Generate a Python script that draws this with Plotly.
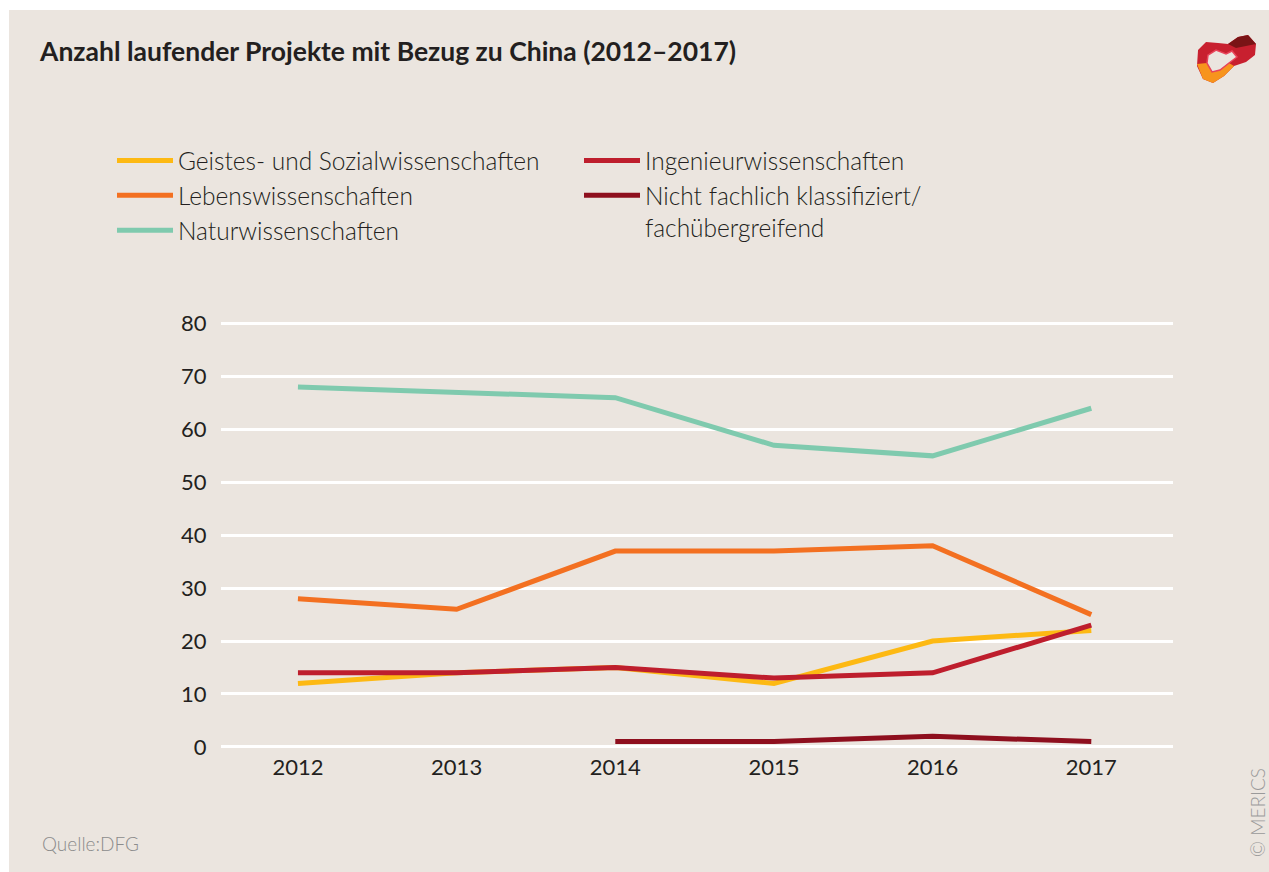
import plotly.graph_objects as go

years = [2012, 2013, 2014, 2015, 2016, 2017]
geistes = [12, 14, 15, 12, 20, 22]
leben = [28, 26, 37, 37, 38, 25]
natur = [68, 67, 66, 57, 55, 64]
ingenieur = [14, 14, 15, 13, 14, 23]
nicht_years = [2014, 2015, 2016, 2017]
nicht = [1, 1, 2, 1]

y_ticks = [0, 10, 20, 30, 40, 50, 60, 70, 80]
x_ticks = years

names = [
    "Geistes- und Sozialwissenschaften",
    "Lebenswissenschaften",
    "Naturwissenschaften",
    "Ingenieurwissenschaften",
    "Nicht fachlich klassifiziert/<br>fachübergreifend",
]
colors = ["#FDB913", "#F37021", "#7FCAAE", "#BE1E2D", "#8E0F1E"]

W, H = 1269, 872
L, R, T, B = 221, 96, 313, 123
PW, PH = W - L - R, H - T - B

def px(x):
    return (x - L) / PW

def py(y):
    return (H - B - y) / PH

def path(pts):
    return "M " + " L ".join(f"{px(a):.4f},{py(b):.4f}" for a, b in pts) + " Z"

TXT = "#231F20"
BG = "#EBE5DF"
FONT = "Lato"

fig = go.Figure()
series = [
    (years, geistes, "legend"),
    (years, leben, "legend"),
    (years, natur, "legend"),
    (years, ingenieur, "legend2"),
    (nicht_years, nicht, "legend2"),
]
for i, (xs, ys, lg) in enumerate(series):
    fig.add_trace(go.Scatter(
        x=xs, y=ys, mode="lines", name=names[i],
        line=dict(color=colors[i], width=5),
        legend=lg,
    ))

legend_common = dict(
    bgcolor="rgba(0,0,0,0)", borderwidth=0,
    font=dict(family=FONT, size=24.5, color=TXT, weight=300),
    itemwidth=56, xanchor="left", yanchor="top", valign="top",
    tracegroupgap=0, orientation="v",
)

# decorative logo (approximation)
logo_outer = [(1198, 50), (1206, 42), (1218, 43), (1228, 44), (1238, 37), (1248, 35),
              (1256, 44), (1255, 55), (1246, 62), (1234, 66), (1224, 76), (1213, 83),
              (1203, 79), (1197, 66)]
logo_orange = [(1197, 64), (1207, 63), (1212, 72), (1220, 70), (1229, 63), (1234, 66),
               (1224, 76), (1213, 83), (1203, 79)]
logo_hole = [(1208, 55), (1216, 50), (1226, 54), (1232, 51), (1237, 57), (1229, 63),
             (1220, 70), (1212, 72), (1207, 63)]
logo_dark = [(1228, 44), (1238, 37), (1248, 35), (1256, 44), (1246, 46), (1236, 48)]

fig.update_layout(
    width=W, height=H,
    margin=dict(l=L, r=R, t=T, b=B, pad=0),
    paper_bgcolor="white",
    plot_bgcolor="rgba(0,0,0,0)",
    showlegend=True,
    title=dict(
        text="<b>Anzahl laufender Projekte mit Bezug zu China (2012–2017)</b>",
        font=dict(family=FONT, size=26.5, color=TXT),
        x=40 / W, xanchor="left", xref="container",
        y=1 - 52 / H, yanchor="middle", yref="container",
    ),
    legend=dict(x=px(112), y=py(138), **legend_common),
    legend2=dict(x=px(579), y=py(138), **legend_common),
    xaxis=dict(
        range=[2011.515, 2017.515],
        tickvals=x_ticks, ticktext=[str(v) for v in x_ticks],
        showgrid=False, zeroline=False, showline=False,
        ticks="", ticklabelstandoff=3,
        tickfont=dict(family=FONT, size=22, color=TXT),
    ),
    yaxis=dict(
        range=[-0.4, 82],
        tickvals=y_ticks, ticktext=[str(v) for v in y_ticks],
        showgrid=True, gridcolor="white", gridwidth=2.5,
        zeroline=False, showline=False,
        ticks="outside", ticklen=9, tickcolor="rgba(0,0,0,0)",
        tickfont=dict(family=FONT, size=22, color=TXT),
    ),
    shapes=[
        dict(type="rect", xref="paper", yref="paper", layer="below",
             x0=px(9), x1=px(W + 5), y0=py(H + 5), y1=py(10),
             fillcolor=BG, line=dict(width=0)),
        dict(type="path", xref="paper", yref="paper", path=path(logo_outer),
             fillcolor="#C8202F", line=dict(width=0)),
        dict(type="path", xref="paper", yref="paper", path=path(logo_dark),
             fillcolor="#7A1416", line=dict(width=0)),
        dict(type="path", xref="paper", yref="paper", path=path(logo_orange),
             fillcolor="#F7941D", line=dict(width=0)),
        dict(type="path", xref="paper", yref="paper", path=path(logo_hole),
             fillcolor=BG, line=dict(color="#E8445A", width=1.5)),
    ],
    annotations=[
        dict(text="Quelle:DFG", xref="paper", yref="paper",
             x=px(40), y=py(843), xanchor="left", yanchor="middle",
             showarrow=False,
             font=dict(family=FONT, size=19, color="#8C8C8C", weight=300)),
        dict(text="© MERICS", xref="paper", yref="paper",
             x=px(1257), y=py(813), xanchor="center", yanchor="middle",
             textangle=-90, showarrow=False,
             font=dict(family=FONT, size=19, color="#9A9A9A", weight=300)),
    ],
)

fig.write_html(
    "out.html",
    config={"displayModeBar": False},
    post_script="document.body.style.margin='0';document.body.style.overflow='hidden';",
)
